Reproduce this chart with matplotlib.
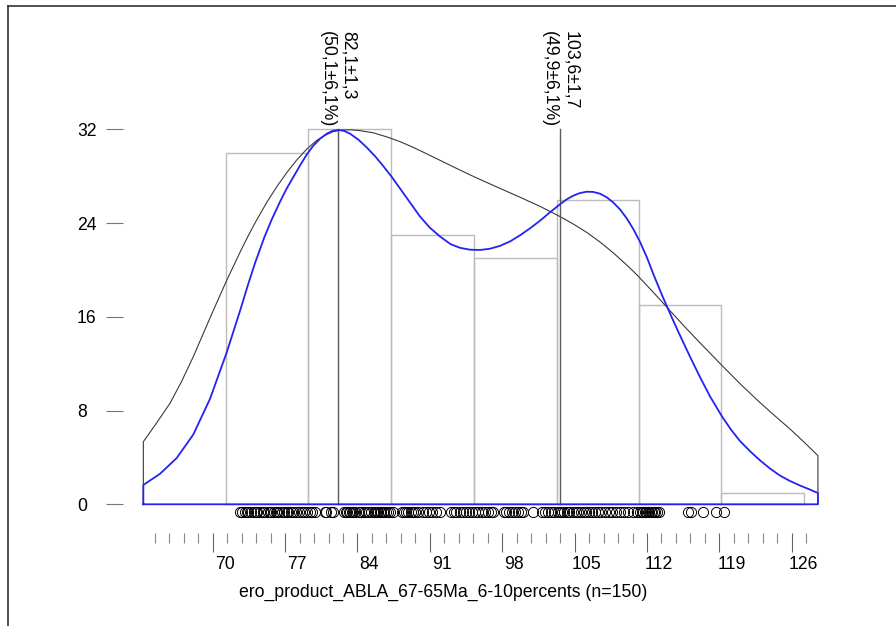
import numpy as np
import matplotlib
matplotlib.use("Agg")
import matplotlib.pyplot as plt
import matplotlib.transforms as mtransforms
from matplotlib.lines import Line2D

plt.rcParams["font.family"] = ["Liberation Sans", "DejaVu Sans"]

# single-grain ages (rug)
ages = [
    72.6, 72.8, 73.1, 73.3, 73.4, 73.7, 74.0, 74.2, 74.3, 74.6,
    74.9, 75.0, 75.3, 75.5, 75.6, 75.9, 76.1, 76.2, 76.4, 76.7,
    76.9, 77.2, 77.3, 77.6, 77.8, 78.1, 78.3, 78.6, 78.8, 79.1,
    79.4, 79.6, 79.9, 80.9, 81.0, 81.4, 81.6, 82.7, 82.9, 83.0,
    83.2, 83.3, 83.5, 83.6, 83.8, 84.1, 84.3, 84.6, 84.8, 85.0,
    85.3, 85.6, 85.7, 85.9, 86.0, 86.2, 86.3, 86.5, 86.6, 86.8,
    87.0, 87.1,
    87.4, 88.3, 88.5, 88.7, 88.9, 89.2, 89.4, 89.6, 89.9, 90.3,
    90.6, 90.9, 91.2, 91.6, 92.0, 93.0, 93.3, 93.5, 93.9, 94.2,
    94.5, 94.8, 95.1,
    95.4, 95.7, 96.0, 96.3, 96.6, 96.9, 97.1, 98.2, 98.4, 98.7,
    98.9, 99.2, 99.5, 99.8, 100.0, 101.0, 101.8, 102.1, 102.4, 102.7,
    103.0,
    103.4, 103.6, 103.8, 104.0, 104.3, 104.5, 104.8, 105.1, 105.3, 105.6,
    105.9, 106.1, 106.4, 106.7, 107.0, 107.3, 107.6, 107.9, 108.3, 108.6,
    109.0, 109.4, 109.8, 110.2, 110.6, 111.0,
    111.3, 111.5, 111.6, 111.8, 111.9, 112.1, 112.2, 112.4, 112.5, 112.7,
    112.8, 113.0, 113.2, 116.0, 116.3, 117.4, 118.7,
    119.4,
]
bin_edges = [71.3, 79.25, 87.2, 95.25, 103.25, 111.25, 119.2, 127.2]

# density curves (scaled to counts)
kde_x_black = [63.29, 64.5, 65.87, 67.0, 68.12, 69.1, 70.06, 71.35, 72.64, 73.4,
               74.09, 75.22, 76.2, 77.16, 78.1, 79.09, 80.06, 80.9, 81.66, 82.63,
               83.4, 84.25, 85.5, 86.83, 88.1, 89.4, 90.7, 91.98, 93.6, 95.27,
               97.79, 99.72, 101.7, 103.59, 104.9, 106.17, 107.5, 108.74, 110.0, 111.0,
               112.6, 114.4, 115.7, 117.1, 119.3, 121.1, 122.9, 124.3, 125.8, 127.2,
               128.53]
kde_y_black = [5.34, 6.85, 8.62, 10.5, 12.59, 14.6, 16.55, 19.1, 21.5, 22.85,
               24.0, 25.75, 27.1, 28.3, 29.35, 30.3, 31.05, 31.5, 31.8, 31.94,
               31.95, 31.88, 31.7, 31.35, 30.95, 30.45, 29.9, 29.35, 28.65, 27.95,
               26.95, 26.2, 25.4, 24.55, 23.9, 23.2, 22.35, 21.45, 20.45, 19.6,
               18.1, 16.35, 15.1, 13.8, 11.8, 10.2, 8.7, 7.6, 6.45, 5.3,
               4.15]
kde_x_blue = [63.29, 64.9, 66.52, 68.12, 69.74, 71.35, 72.64, 73.4, 74.1, 75.0,
              75.71, 76.5, 77.16, 78.44, 79.1, 79.73, 80.4, 81.03, 81.6, 82.15,
              82.7, 83.28, 84.1, 84.89, 85.7, 86.5, 87.3, 88.11, 89.0, 90.05,
              91.0, 91.98, 93.0, 93.92, 94.9, 95.85, 96.8, 97.79, 98.8, 99.72,
              100.7, 101.66, 102.6, 103.59, 104.2, 104.87, 105.5, 106.17, 106.8, 107.46,
              108.1, 108.74, 109.4, 110.04, 110.7, 111.32, 112.0, 112.61, 113.5, 114.42,
              115.3, 116.16, 117.1, 118.1, 119.25, 120.1, 120.99, 122.0, 122.93, 123.9,
              124.86, 125.8, 126.8, 127.7, 128.53]
kde_y_blue = [1.65, 2.6, 3.95, 5.95, 9.0, 12.95, 16.5, 18.7, 20.6, 22.8,
              24.3, 25.8, 26.95, 28.9, 29.85, 30.6, 31.2, 31.62, 31.86, 31.94,
              31.86, 31.62, 31.1, 30.45, 29.7, 28.85, 27.95, 26.95, 25.85, 24.55,
              23.6, 22.85, 22.2, 21.88, 21.72, 21.7, 21.8, 22.05, 22.45, 22.95,
              23.55, 24.2, 24.9, 25.6, 26.0, 26.33, 26.55, 26.67, 26.65, 26.5,
              26.2, 25.75, 25.15, 24.4, 23.45, 22.4, 21.05, 19.65, 17.75, 15.9,
              14.2, 12.6, 10.9, 9.2, 7.5, 6.4, 5.4, 4.5, 3.75, 3.05,
              2.45, 2.0, 1.6, 1.28, 0.96]

peaks = [82.1, 103.6]
peak_labels = ["82,1±1,3\n(50,1±6,1%)", "103,6±1,7\n(49,9±6,1%)"]
peak_top = 32

x_major = [70, 77, 84, 91, 98, 105, 112, 119, 126]
x_minor_start, x_minor_step, x_minor_stop = 64.4, 1.4, 127.5
y_major = [0, 8, 16, 24, 32]
xlabel = "ero_product_ABLA_67-65Ma_6-10percents (n=150)"

FS = 12.7
W, H = 896, 626
fig = plt.figure(figsize=(W / 100, H / 100), dpi=100)
ax = fig.add_axes([130 / W, (H - 520) / H, 700 / W, 500 / H])
ax.set_xlim(62.0, 129.7)
ax.set_ylim(-1.34, 41.32)

ax.hist(ages, bins=bin_edges, fill=False, edgecolor="#bbbbbb", linewidth=1.0, zorder=1)


def closed(xs, ys):
    return [xs[0]] + list(xs) + [xs[-1]], [0] + list(ys) + [0]


bx, by = closed(kde_x_black, kde_y_black)
ax.plot(bx, by, color="#3a3a3a", lw=0.8, zorder=2)
for p in peaks:
    ax.plot([p, p], [0, peak_top], color="#5a5a5a", lw=1.0, zorder=2)
ux, uy = closed(kde_x_blue, kde_y_blue)
ax.plot(ux + [ux[0]], uy + [0], color="#2323f0", lw=1.3, zorder=3)

ax.plot(ages, np.full(len(ages), -0.63), "o", mfc="none", mec="black",
        ms=7.3, mew=0.7, zorder=4, clip_on=False)

top = mtransforms.blended_transform_factory(ax.transData, ax.transAxes)
for p, lab in zip(peaks, peak_labels):
    ax.text(p, 0.978, lab, transform=top, rotation=270, ha="center", va="top",
            fontsize=FS, linespacing=1.3, multialignment="left")

for s in ax.spines.values():
    s.set_visible(False)
ax.spines["bottom"].set_position(("outward", 9))
ax.spines["left"].set_position(("outward", 5))

ax.set_xticks(x_major)
ax.set_xticks(np.arange(x_minor_start, x_minor_stop, x_minor_step), minor=True)
ax.tick_params(axis="x", which="major", length=13.7, width=0.8, color="#666666",
               labelsize=FS, pad=3.5)
ax.tick_params(axis="x", which="minor", length=7.2, width=0.8, color="#888888")
shift = mtransforms.ScaledTranslation(12 / 100, 0, fig.dpi_scale_trans)
for lab in ax.get_xticklabels():
    lab.set_transform(lab.get_transform() + shift)

ax.set_yticks(y_major)
ax.tick_params(axis="y", which="major", length=12.2, width=0.8, color="#777777",
               labelsize=FS, pad=20.9)
for lab in ax.get_yticklabels():
    lab.set_horizontalalignment("left")

fig.text(443 / W, 1 - 592 / H, xlabel, ha="center", va="center", fontsize=FS)

# screenshot frame
fig.add_artist(Line2D([8 / W, 1], [1 - 6 / H, 1 - 6 / H], color="#333333", lw=1.2))
fig.add_artist(Line2D([8 / W, 8 / W], [0, 1 - 6 / H], color="#333333", lw=1.2))

fig.savefig("out.png", dpi=100, facecolor="white")
